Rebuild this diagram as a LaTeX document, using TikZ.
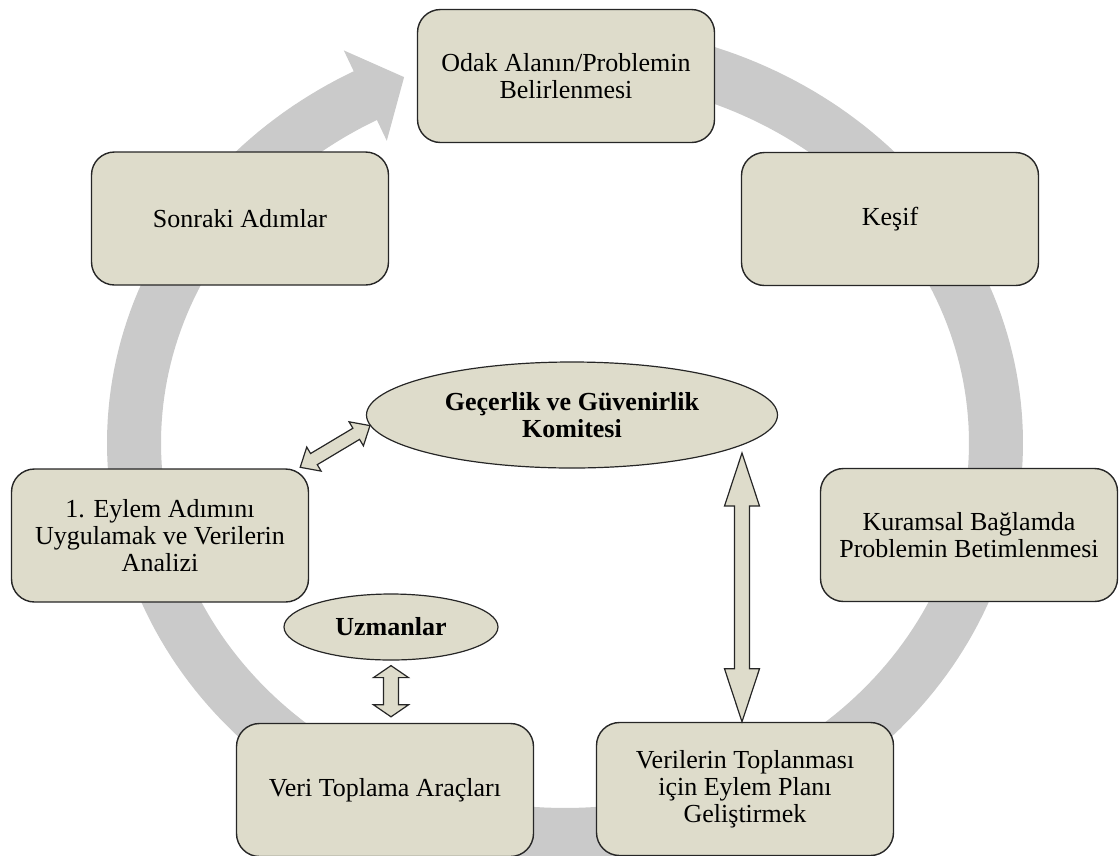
\documentclass[tikz,border=0pt]{standalone}
\usepackage{fontspec}
\setmainfont{Liberation Serif}
\usetikzlibrary{shapes.geometric,calc}

\definecolor{boxfill}{RGB}{222,220,203}
\definecolor{ringgray}{RGB}{202,202,202}
\definecolor{edge}{RGB}{38,38,38}

\tikzset{
  stepbox/.style={draw=edge, line width=1.4pt, fill=boxfill, rounded corners=23pt,
    minimum width=297pt, minimum height=133pt, inner sep=0pt, align=center,
    font=\fontsize{26}{26.8}\selectfont},
  oval/.style={ellipse, draw=edge, line width=1.2pt, fill=boxfill, inner sep=0pt,
    align=center, font=\fontsize{26}{26.5}\selectfont\bfseries},
  fatarrow/.style={draw=edge, line width=1.2pt, fill=boxfill, line join=miter},
  ring/.style={draw=ringgray, line width=54pt}
}

% two-headed block arrow between tips #1 and #2:
% shaft half-width #3, head half-width #4, head length #5
\newcommand\fatarrow[5]{%
  \draw[fatarrow] (#1)
    -- ($(#1)!#5!(#2)!#4!90:(#2)$)
    -- ($(#1)!#5!(#2)!#3!90:(#2)$)
    -- ($(#2)!#5!(#1)!#3!-90:(#1)$)
    -- ($(#2)!#5!(#1)!#4!-90:(#1)$)
    -- (#2)
    -- ($(#2)!#5!(#1)!#4!90:(#1)$)
    -- ($(#2)!#5!(#1)!#3!90:(#1)$)
    -- ($(#1)!#5!(#2)!#3!-90:(#2)$)
    -- ($(#1)!#5!(#2)!#4!-90:(#2)$)
    -- cycle;}

\begin{document}
\begin{tikzpicture}[x=1pt, y=-1pt]
\useasboundingbox (0,0) rectangle (1119,855);

% the cycle ring, running clockwise and ending in an arrow head
\draw[ring] plot[domain=80:-242.7, samples=240]
  ({565+431*cos(\x)}, {443-392*sin(\x)});
\fill[ringgray] (343.8,50.4) -- (404.1,77.1) -- (386.8,140.8) -- cycle;

% steps of the cycle
\node[stepbox] (odak)    at (566,76)    {Odak Alanın/Problemin\\Belirlenmesi};
\node[stepbox] (kesif)   at (890,219)   {Keşif};
\node[stepbox] (sonraki) at (240,218.5) {Sonraki Adımlar};
\node[stepbox] (kuram)   at (969,535)   {Kuramsal Bağlamda\\Problemin Betimlenmesi};
\node[stepbox] (eylem)   at (160,535.5) {1. Eylem Adımını\\Uygulamak ve Verilerin\\Analizi};
\node[stepbox] (veri)    at (385,790)   {Veri Toplama Araçları};
\node[stepbox] (plan)    at (745,789)   {Verilerin Toplanması\\için Eylem Planı\\Geliştirmek};

% supporting groups
\node[oval, minimum width=411pt, minimum height=106pt] (kom) at (572,415)
  {Geçerlik ve Güvenirlik\\Komitesi};
\node[oval, minimum width=214pt, minimum height=66pt] (uzm) at (391,627) {Uzmanlar};

% arrow end points
\coordinate (d1) at ([xshift=-9pt,yshift=1pt]eylem.north east);
\coordinate (d2) at (kom.183);
\coordinate (v1) at (742,453);
\coordinate (v2) at (v1 |- plan.north);
\coordinate (u1) at ([yshift=-5pt]uzm.south);
\coordinate (u2) at ($(u1 |- veri.north)+(0,-6)$);

\fatarrow{d1}{d2}{6.5pt}{14pt}{16pt}
\fatarrow{v1}{v2}{7.5pt}{17.5pt}{53pt}
\fatarrow{u1}{u2}{7.5pt}{17.5pt}{12pt}
\end{tikzpicture}
\end{document}
